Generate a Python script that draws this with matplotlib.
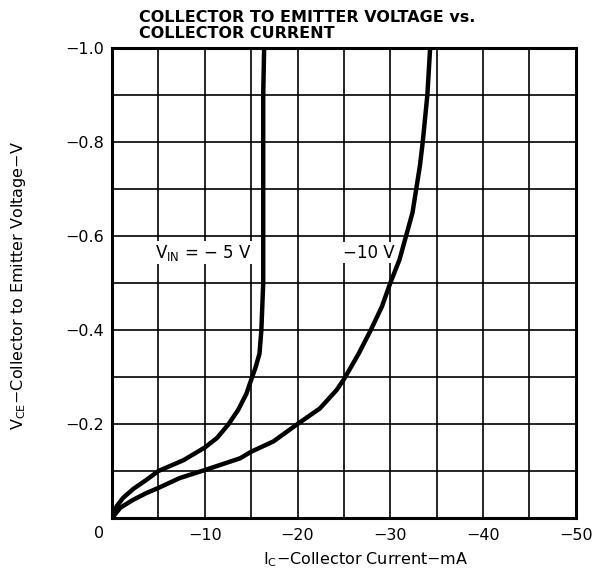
import numpy as np
import matplotlib
matplotlib.use("Agg")
import matplotlib.pyplot as plt

# curves (Ic in mA, Vce in V)
ic_5v = [0, -0.5, -1.2, -2.3, -3.7, -5.0, -7.7, -10.0, -11.3, -12.5, -13.6, -14.5,
         -15.0, -15.5, -15.9, -16.1, -16.2, -16.3, -16.3, -16.3, -16.4]
vce_5v = [0, -0.025, -0.043, -0.062, -0.081, -0.1, -0.123, -0.15, -0.17, -0.198, -0.23, -0.265,
          -0.294, -0.322, -0.35, -0.4, -0.45, -0.5, -0.7, -0.9, -1.0]

ic_10v = [0, -0.9, -2.3, -3.7, -5.0, -6.2, -7.3, -10.0, -13.8, -15.0, -17.4, -20.0,
          -22.4, -24.2, -25.0, -26.6, -27.9, -29.1, -30.0, -31.0, -31.7, -32.4, -32.8,
          -33.2, -33.5, -34.0, -34.3]
vce_10v = [0, -0.022, -0.039, -0.053, -0.064, -0.075, -0.085, -0.102, -0.127, -0.141, -0.163, -0.2,
           -0.233, -0.272, -0.295, -0.35, -0.4, -0.45, -0.5, -0.55, -0.6, -0.65, -0.7,
           -0.75, -0.8, -0.9, -1.0]

MINUS = "\u2212"
x_major = [0, -10, -20, -30, -40, -50]
x_labels = ["", MINUS + "10", MINUS + "20", MINUS + "30", MINUS + "40", MINUS + "50"]
y_major = [0, -0.2, -0.4, -0.6, -0.8, -1.0]
y_labels = ["", MINUS + "0.2", MINUS + "0.4", MINUS + "0.6", MINUS + "0.8", MINUS + "1.0"]

plt.rcParams['font.family'] = ['DejaVu Sans']
plt.rcParams['mathtext.fontset'] = 'custom'
plt.rcParams['mathtext.rm'] = 'DejaVu Sans'
plt.rcParams['mathtext.it'] = 'DejaVu Sans'

fig = plt.figure(figsize=(5.96, 5.73), dpi=100)
ax = fig.add_axes([0.188, 0.096, 0.778, 0.82])

ax.set_xlim(0, -50)
ax.set_ylim(0, -1.0)

ax.set_xticks(x_major)
ax.set_xticklabels(x_labels)
ax.set_xticks(np.arange(0, -51, -5), minor=True)
ax.set_yticks(y_major)
ax.set_yticklabels(y_labels)
ax.set_yticks(np.arange(0, -1.01, -0.1), minor=True)
ax.tick_params(which='both', length=0, labelsize=11.5, colors='black')
ax.tick_params(axis='x', pad=7)
ax.tick_params(axis='y', pad=6)
ax.grid(which='both', color='black', linewidth=1.2)
ax.set_axisbelow(True)
for sp in ax.spines.values():
    sp.set_linewidth(2.2)

ax.plot(ic_5v, vce_5v, color='black', linewidth=3.2, solid_joinstyle='round')
ax.plot(ic_10v, vce_10v, color='black', linewidth=3.2, solid_joinstyle='round')

# corner zero shared by both axes
ax.annotate("0", xy=(0, 0), xytext=(-9, -11), textcoords='offset points',
            ha='center', va='center', fontsize=11.5)

ax.text(-4.6, -0.565, r"V$_{\rm IN}$ = " + MINUS + " 5 V", fontsize=12, ha='left', va='center',
        bbox=dict(facecolor='white', edgecolor='none', pad=1))
ax.text(-24.9, -0.565, MINUS + "10 V", fontsize=12, ha='left', va='center',
        bbox=dict(facecolor='white', edgecolor='none', pad=1))

ax.set_xlabel(r"I$_{\rm C}$" + MINUS + "Collector Current" + MINUS + "mA", fontsize=11.5)
ax.xaxis.set_label_coords(0.548, -0.068)
ax.set_ylabel(r"V$_{\rm CE}$" + MINUS + "Collector to Emitter Voltage" + MINUS + "V", fontsize=11.5)
ax.yaxis.set_label_coords(-0.181, 0.494)

fig.text(0.233, 0.969, "COLLECTOR TO EMITTER VOLTAGE vs.", fontsize=11.5, fontweight='bold',
         ha='left', va='center')
fig.text(0.233, 0.942, "COLLECTOR CURRENT", fontsize=11.5, fontweight='bold',
         ha='left', va='center')

fig.savefig("out.png", dpi=100)
